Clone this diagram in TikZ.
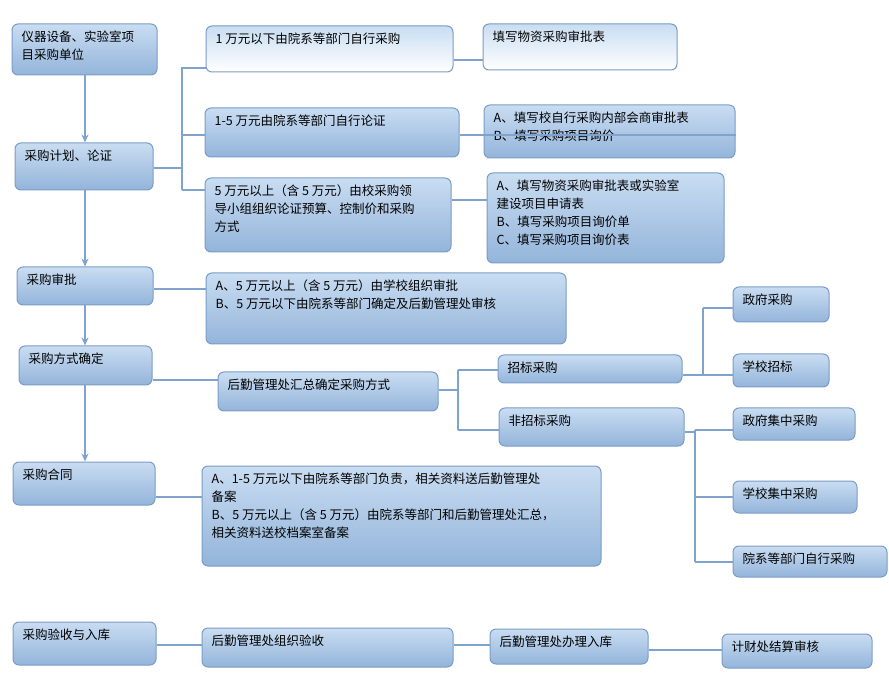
\documentclass[tikz,border=0pt]{standalone}
\usepackage{fontspec}
\setmainfont{Noto Sans CJK SC}
\tikzset{
  box/.style={draw=bordc, line width=1pt, rounded corners=6pt, top color=topc, bottom color=botc, inner sep=0pt},
  wbox/.style={box, top color=topc, bottom color=white},
  txt/.style={inner sep=0pt, align=left, anchor=north west, font=\fontsize{12.5}{18}\selectfont},
  ln/.style={draw=linec, line width=1.3pt},
  arr/.style={ln, -{Stealth[length=8pt,width=7pt]}}
}
\usetikzlibrary{arrows.meta}
\definecolor{bordc}{HTML}{7A9CC6}
\definecolor{topc}{HTML}{C9DDF2}
\definecolor{botc}{HTML}{93B4DA}
\definecolor{linec}{HTML}{7FA3CC}
\newcommand\bx[7]{%
  \pgfmathsetmacro\bw{#5-#3}\pgfmathsetmacro\bh{#6-#4}%
  \pgfmathsetmacro\cx{(#3+#5)/2}\pgfmathsetmacro\cy{(#4+#6)/2}%
  \node[#1, minimum width=\bw pt, minimum height=\bh pt] (#2) at (\cx,\cy) {};
  \node[txt] (#2t) at ([xshift=10pt,yshift=-7pt]#2.north west) {#7};
}
\begin{document}
\begin{tikzpicture}[x=1pt,y=-1pt]
\useasboundingbox (0,0) rectangle (889,684);
\bx{box}{A}{12}{24}{157}{75}{仪器设备、实验室项\\目采购单位}
\bx{box}{B}{15}{143}{153}{190}{采购计划、论证}
\bx{wbox}{C}{206}{26}{453}{72}{1 万元以下由院系等部门自行采购}
\bx{wbox}{D}{483}{24}{677}{70}{填写物资采购审批表}
\bx{box}{E}{205}{108}{459}{157}{1-5 万元由院系等部门自行论证}
\bx{box}{F}{484}{105}{735}{158}{A、填写校自行采购内部会商审批表\\B、填写采购项目询价}
\bx{box}{G}{205}{178}{451}{252}{5 万元以上（含 5 万元）由校采购领\\导小组组织论证预算、控制价和采购\\方式}
\bx{box}{H}{487}{173}{724}{263}{A、填写物资采购审批表或实验室\\建设项目申请表\\B、填写采购项目询价单\\C、填写采购项目询价表}
\bx{box}{I}{17}{267}{153}{305}{采购审批}
\bx{box}{J}{206}{273}{566}{344}{A、5 万元以上（含 5 万元）由学校组织审批\\B、5 万元以下由院系等部门确定及后勤管理处审核}
\bx{box}{K}{19}{346}{152}{385}{采购方式确定}
\bx{box}{L}{218}{372}{438}{411}{后勤管理处汇总确定采购方式}
\bx{box}{M}{498}{355}{682}{383}{招标采购}
\bx{box}{N}{499}{408}{684}{446}{非招标采购}
\bx{box}{O}{733}{287}{829}{322}{政府采购}
\bx{box}{P}{733}{354}{829}{387}{学校招标}
\bx{box}{Q}{733}{408}{855}{440}{政府集中采购}
\bx{box}{R}{733}{481}{857}{513}{学校集中采购}
\bx{box}{S}{733}{546}{887}{577}{院系等部门自行采购}
\bx{box}{T}{13}{462}{155}{505}{采购合同}
\bx{box}{U}{202}{466}{601}{566}{A、1-5 万元以下由院系等部门负责，相关资料送后勤管理处\\备案\\B、5 万元以上（含 5 万元）由院系等部门和后勤管理处汇总，\\相关资料送校档案室备案}
\bx{box}{V}{13}{622}{156}{665}{采购验收与入库}
\bx{box}{W}{202}{628}{453}{667}{后勤管理处组织验收}
\bx{box}{X}{490}{629}{648}{664}{后勤管理处办理入库}
\bx{box}{Y}{722}{634}{872}{668}{计财处结算审核}
% vertical flow
\draw[arr] (A.south -| 85,0) -- (B.north -| 85,0);
\draw[arr] (B.south -| 85,0) -- (I.north -| 85,0);
\draw[arr] (I.south -| 85,0) -- (K.north -| 85,0);
\draw[arr] (K.south -| 85,0) -- (T.north -| 85,0);
% bracket 1
\coordinate (b1) at (182,168);
\draw[ln] (B.east |- b1) -- (b1);
\draw[ln] (182,67) -- (182,190);
\draw[ln] (182,68) -- (C.west |- 0,68);
\draw[ln] (182,135) -- (E.west |- 0,135);
\draw[ln] (182,190) -- (G.west |- 0,190);
\draw[ln] (C.east |- 0,60) -- (D.west |- 0,60);
\draw[ln] (E.east |- 0,135) -- (F.east |- 0,135) ;
\draw[ln] (G.east |- 0,200) -- (H.west |- 0,200);
\draw[ln] (I.east |- 0,289) -- (J.west |- 0,289);
\draw[ln] (K.east |- 0,380) -- (L.west |- 0,380);
% bracket 2
\draw[ln] (L.east |- 0,390) -- (458,390);
\draw[ln] (458,370) -- (458,430);
\draw[ln] (458,370) -- (M.west |- 0,370);
\draw[ln] (458,430) -- (N.west |- 0,430);
% bracket 3
\draw[ln] (M.east |- 0,375) -- (P.west |- 0,375);
\draw[ln] (703,308) -- (703,375);
\draw[ln] (703,308) -- (O.west |- 0,308);
% bracket 4
\draw[ln] (N.east |- 0,432) -- (695,432);
\draw[ln] (695,430) -- (695,562);
\draw[ln] (695,430) -- (Q.west |- 0,430);
\draw[ln] (695,497) -- (R.west |- 0,497);
\draw[ln] (695,562) -- (S.west |- 0,562);
\draw[ln] (T.east |- 0,497) -- (U.west |- 0,497);
\draw[ln] (V.east |- 0,645) -- (W.west |- 0,645);
\draw[ln] (W.east |- 0,645) -- (X.west |- 0,645);
\draw[ln] (X.east |- 0,650) -- (Y.west |- 0,650);
\end{tikzpicture}
\end{document}
